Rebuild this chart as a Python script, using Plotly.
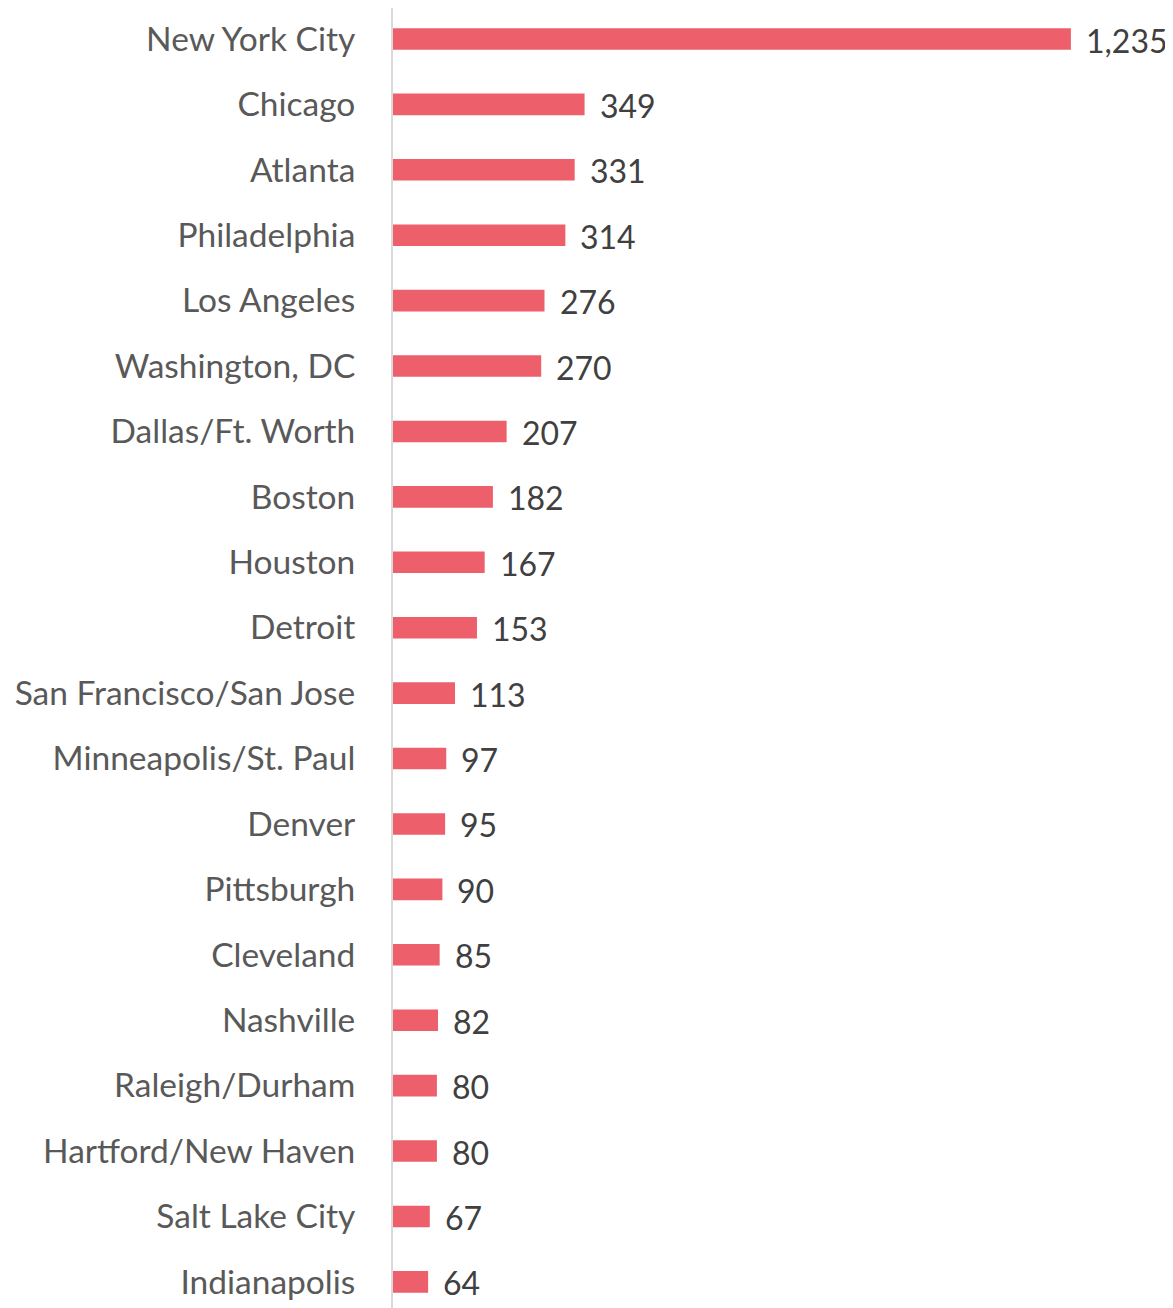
import plotly.graph_objects as go

cities = ["New York City", "Chicago", "Atlanta", "Philadelphia", "Los Angeles",
          "Washington, DC", "Dallas/Ft. Worth", "Boston", "Houston", "Detroit",
          "San Francisco/San Jose", "Minneapolis/St. Paul", "Denver", "Pittsburgh",
          "Cleveland", "Nashville", "Raleigh/Durham", "Hartford/New Haven",
          "Salt Lake City", "Indianapolis"]
values = [1235, 349, 331, 314, 276, 270, 207, 182, 167, 153,
          113, 97, 95, 90, 85, 82, 80, 80, 67, 64]

FONT = "Lato, 'Open Sans', sans-serif"

fig = go.Figure(go.Bar(
    x=values, y=cities, orientation="h",
    marker=dict(color="#EC5F6B", line=dict(width=0)),
    width=0.33, hoverinfo="skip",
))

for c, v in zip(cities, values):
    fig.add_annotation(x=v, y=c, text=f"{v:,}", showarrow=False,
                       xanchor="left", yanchor="middle", xshift=13, yshift=-1,
                       font=dict(family=FONT, size=32, color="#404040"))

fig.update_layout(
    width=1165, height=1300,
    margin=dict(l=385, r=0, t=0, b=0),
    paper_bgcolor="white", plot_bgcolor="white",
    showlegend=False,
    xaxis=dict(range=[0, 1421], visible=False, showgrid=False, zeroline=False),
    yaxis=dict(range=[19.40, -0.474], showgrid=False, zeroline=False,
               showline=True, linecolor="#D9D9D9", linewidth=2,
               ticks="", ticklabelstandoff=29,
               tickfont=dict(family=FONT, size=33.5, color="#595959")),
)

fig.write_html("out.html")
